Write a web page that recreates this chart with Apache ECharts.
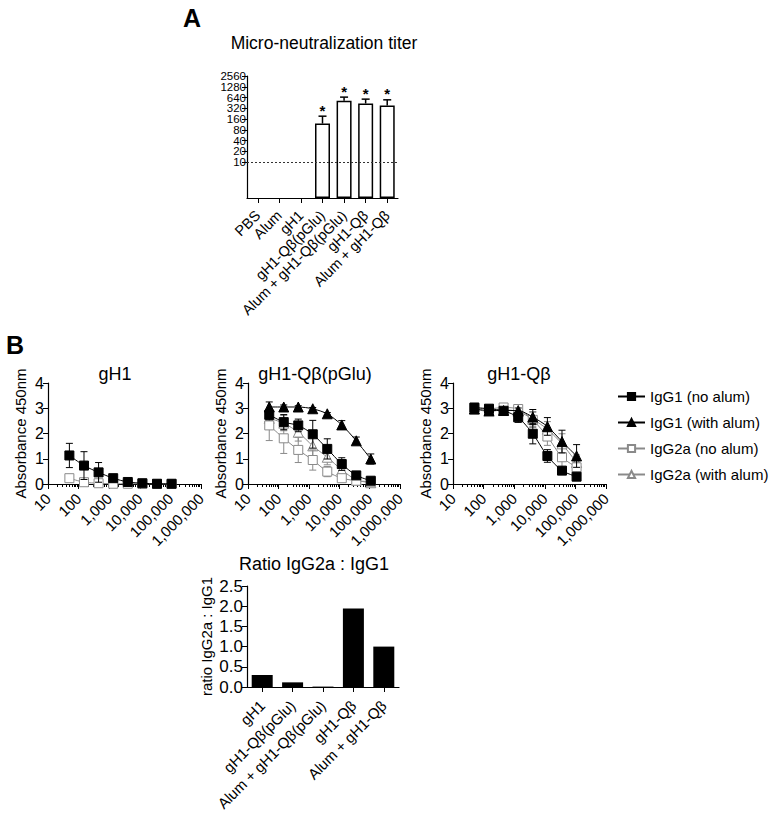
<!DOCTYPE html>
<html>
<head>
<meta charset="utf-8">
<script src="https://cdn.jsdelivr.net/npm/echarts@6/dist/echarts.min.js"></script>
<style>html,body{margin:0;padding:0;background:#fff}#c{width:773px;height:818px}</style>
</head>
<body>
<div id="c"></div>
<script>
// ---------- Panel A: micro-neutralization titer ----------
const titerCategories = ['PBS', 'Alum', 'gH1', 'gH1-Qβ(pGlu)', 'Alum + gH1-Qβ(pGlu)', 'gH1-Qβ', 'Alum + gH1-Qβ'];
const titerMean = [null, null, null, 120, 518, 437, 385];
const titerUpper = [null, null, null, 193, 658, 578, 553];
const titerSignificant = [false, false, false, true, true, true, true];
const titerTicks = [10, 20, 40, 80, 160, 320, 640, 1280, 2560];
const titerAxisMin = 1;
const titerAxisMax = 2560;
const detectionLimit = 10;

// ---------- Panel B: ELISA curves ----------
const dilutions = [50, 150, 450, 1350, 4050, 12150, 36450, 109350];
const dilutionMajorTicks = [10, 100, 1000, 10000, 100000, 1000000];
const seriesNames = ['IgG1 (no alum)', 'IgG1 (with alum)', 'IgG2a (no alum)', 'IgG2a (with alum)'];

// gH1
const gH1_IgG1_noAlum = [1.13, 0.73, 0.46, 0.23, 0.08, 0.03, 0.01, 0.01];
const gH1_IgG1_noAlum_err = [0.48, 0.55, 0.39, 0.15, 0.03, 0.02, 0.01, 0.01];
const gH1_IgG2a_noAlum = [0.23, 0.07, 0.03, 0.01, 0.01, 0.01, 0.0, 0.0];
const gH1_IgG2a_noAlum_err = [0.05, 0.03, 0.02, 0.01, 0, 0, 0, 0];

// gH1-Qβ(pGlu)
const pGlu_IgG1_noAlum = [2.74, 2.45, 2.32, 1.97, 1.39, 0.79, 0.34, 0.13];
const pGlu_IgG1_noAlum_err = [0.2, 0.3, 0.25, 0.55, 0.4, 0.25, 0.1, 0.05];
const pGlu_IgG1_alum = [3.05, 3.05, 3.05, 2.98, 2.78, 2.34, 1.71, 0.99];
const pGlu_IgG1_alum_err = [0.2, 0.08, 0.05, 0.05, 0.05, 0.17, 0.15, 0.2];
const pGlu_IgG2a_noAlum = [2.32, 1.81, 1.35, 0.95, 0.49, 0.23, 0.13, 0.09];
const pGlu_IgG2a_noAlum_err = [0.6, 0.6, 0.5, 0.4, 0.2, 0.08, 0.05, 0.03];
const pGlu_IgG2a_alum = [2.6, 2.41, 2.05, 1.51, 1.06, 0.56, 0.16, 0.05];
const pGlu_IgG2a_alum_err = [0.3, 0.3, 0.35, 0.45, 0.3, 0.15, 0.05, 0.03];

// gH1-Qβ
const qb_IgG1_noAlum = [3.03, 2.98, 2.90, 2.64, 1.99, 1.11, 0.53, 0.29];
const qb_IgG1_noAlum_err = [0.05, 0.05, 0.05, 0.2, 0.4, 0.25, 0.1, 0.05];
const qb_IgG1_alum = [2.97, 2.91, 2.91, 2.91, 2.65, 2.28, 1.68, 1.11];
const qb_IgG1_alum_err = [0.05, 0.05, 0.05, 0.1, 0.3, 0.35, 0.45, 0.45];
const qb_IgG2a_noAlum = [3.0, 2.98, 3.03, 2.97, 2.54, 1.88, 1.06, 0.66];
const qb_IgG2a_noAlum_err = [0.05, 0.05, 0.05, 0.05, 0.3, 0.35, 0.45, 0.2];
const qb_IgG2a_alum = [2.97, 2.87, 2.94, 2.87, 2.57, 2.17, 1.59, 0.85];
const qb_IgG2a_alum_err = [0.05, 0.05, 0.05, 0.05, 0.3, 0.3, 0.4, 0.3];

// Ratio
const ratioCategories = ['gH1', 'gH1-Qβ(pGlu)', 'Alum + gH1-Qβ(pGlu)', 'gH1-Qβ', 'Alum + gH1-Qβ'];
const ratioValues = [0.30, 0.115, 0.01, 1.94, 1.0];

// ---------- build ----------
const FONT = "'Liberation Sans', Arial, Helvetica, sans-serif";
const NARROW = "'Liberation Sans Narrow', 'Arial Narrow', 'Liberation Sans', Arial, sans-serif";
const BLACK = '#000';
const GRAY = '#8a8a8a';

const log2 = Math.log2;
const log10 = Math.log10;
const fmtThousands = v => String(Math.round(Math.pow(10, v))).replace(/\B(?=(\d{3})+(?!\d))/g, ',');

const minorTicks = [];
for (let d = 1; d < 6; d++) for (let k = 2; k <= 9; k++) minorTicks.push(d + log10(k));

const styles = {
  'IgG1 (no alum)':   { symbol: 'rect', color: BLACK, fill: BLACK, z: 4 },
  'IgG1 (with alum)': { symbol: 'triangle', color: BLACK, fill: BLACK, z: 5 },
  'IgG2a (no alum)':  { symbol: 'rect', color: GRAY, fill: '#fff', z: 3 },
  'IgG2a (with alum)':{ symbol: 'triangle', color: GRAY, fill: '#fff', z: 2 }
};

const grids = [
  { left: 247, top: 76, width: 151, height: 122 },   // A
  { left: 48, top: 383, width: 153, height: 101 },   // gH1
  { left: 248, top: 383, width: 152, height: 101 },  // pGlu
  { left: 453, top: 383, width: 153, height: 101 },  // Qb
  { left: 247, top: 586, width: 152, height: 101 }   // ratio
];

const axisLine = { show: true, lineStyle: { color: BLACK, width: 1.2 } };
const xAxes = [];
const yAxes = [];
const series = [];

// Panel A axes
xAxes.push({
  type: 'category', gridIndex: 0, data: titerCategories,
  axisLine, axisTick: { show: true, alignWithLabel: true, length: 5, lineStyle: { color: BLACK } },
  axisLabel: { interval: 0, rotate: 45, fontSize: 14.5, color: BLACK, margin: 15, fontFamily: FONT }
});
// two overlaid left axes carry alternating labels so that the tight log2 labels are all kept
const titerLabelsEven = titerTicks.filter((t, i) => i % 2 === 0);
const titerLabelsOdd = titerTicks.filter((t, i) => i % 2 === 1);
[titerLabelsEven, titerLabelsOdd].forEach((labs, k) => {
  yAxes.push({
    type: 'value', gridIndex: 0, position: 'left', offset: 0,
    min: log2(titerAxisMin), max: log2(titerAxisMax),
    splitLine: { show: false },
    axisLine: k === 0 ? axisLine : { show: false },
    axisTick: { show: k === 0, length: 5, customValues: titerTicks.map(log2), lineStyle: { color: BLACK } },
    axisLabel: { customValues: labs.map(log2), formatter: v => String(Math.round(Math.pow(2, v))),
      fontSize: 11.5, lineHeight: 10, color: BLACK, margin: 1, fontFamily: NARROW }
  });
});

// Panel B curve axes
for (let g = 1; g <= 3; g++) {
  xAxes.push({
    type: 'value', gridIndex: g, min: 1, max: 6, interval: 1, position: 'bottom',
    splitLine: { show: false }, axisLine,
    axisTick: { show: true, length: 5, lineStyle: { color: BLACK } },
    axisLabel: { rotate: 45, fontSize: 15, color: BLACK, margin: 12, formatter: fmtThousands, fontFamily: FONT,
      showMinLabel: true, showMaxLabel: true }
  });
  xAxes.push({
    type: 'value', gridIndex: g, min: 1, max: 6, interval: 1, position: 'bottom',
    splitLine: { show: false }, axisLine: { show: false },
    axisTick: { show: true, length: 3, customValues: minorTicks, lineStyle: { color: BLACK } },
    axisLabel: { show: false }
  });
}
const curveYStart = yAxes.length;
for (let g = 1; g <= 3; g++) {
  yAxes.push({
    type: 'value', gridIndex: g, min: 0, max: 4, interval: 1,
    splitLine: { show: false }, axisLine,
    axisTick: { show: true, length: 5, lineStyle: { color: BLACK } },
    axisLabel: { fontSize: 16, color: BLACK, margin: 4, fontFamily: FONT },
    name: 'Absorbance 450nm', nameLocation: 'middle', nameGap: 20,
    nameTextStyle: { fontSize: 15, color: BLACK, fontFamily: FONT }
  });
}

// Ratio axes
xAxes.push({
  type: 'category', gridIndex: 4, data: ratioCategories,
  axisLine, axisTick: { show: true, alignWithLabel: true, length: 5, lineStyle: { color: BLACK } },
  axisLabel: { interval: 0, rotate: 45, fontSize: 15, color: BLACK, margin: 16, fontFamily: FONT }
});
yAxes.push({
  type: 'value', gridIndex: 4, min: 0, max: 2.5, interval: 0.5,
  splitLine: { show: false }, axisLine,
  axisTick: { show: true, length: 5, lineStyle: { color: BLACK } },
  axisLabel: { fontSize: 17, color: BLACK, margin: 4, formatter: v => v.toFixed(1), fontFamily: FONT },
  name: 'ratio IgG2a : IgG1', nameLocation: 'middle', nameGap: 33,
  nameTextStyle: { fontSize: 15, color: BLACK, fontFamily: FONT }
});

// Panel A series
series.push({
  type: 'bar', xAxisIndex: 0, yAxisIndex: 0, barWidth: 15,
  data: titerMean.map(v => v == null ? null : log2(v)),
  itemStyle: { color: '#fff', borderColor: BLACK, borderWidth: 1.5 },
  markLine: {
    silent: true, symbol: 'none', label: { show: false },
    lineStyle: { type: [2, 2], color: '#333', width: 1.2 },
    data: [{ yAxis: log2(detectionLimit) }]
  }, z: 2
});
series.push({
  type: 'custom', xAxisIndex: 0, yAxisIndex: 0, coordinateSystem: 'cartesian2d', z: 3,
  data: titerCategories.map((c, i) => [i, titerMean[i] == null ? null : log2(titerMean[i]),
    titerUpper[i] == null ? null : log2(titerUpper[i]), titerSignificant[i] ? 1 : 0]),
  renderItem: (params, api) => {
    if (api.value(1) == null || isNaN(api.value(1))) return null;
    const p0 = api.coord([api.value(0), api.value(1)]);
    const p1 = api.coord([api.value(0), api.value(2)]);
    const children = [
      { type: 'line', shape: { x1: p0[0], y1: p0[1], x2: p1[0], y2: p1[1] }, style: { stroke: BLACK, lineWidth: 1.5 } },
      { type: 'line', shape: { x1: p1[0] - 4, y1: p1[1], x2: p1[0] + 4, y2: p1[1] }, style: { stroke: BLACK, lineWidth: 1.5 } }
    ];
    if (api.value(3)) children.push({ type: 'text', x: p1[0], y: p1[1] - 6,
      style: { text: '*', fontSize: 15, fontWeight: 'bold', fill: BLACK, align: 'center', verticalAlign: 'middle', fontFamily: FONT } });
    return { type: 'group', children };
  }
});

// Panel B series helper
function addCurve(panel, name, vals, errs) {
  const st = styles[name];
  const xi = 1 + (panel - 1) * 2;
  const yi = curveYStart + panel - 1;
  const pts = dilutions.map((d, i) => [log10(d), vals[i]]);
  series.push({
    type: 'custom', xAxisIndex: xi, yAxisIndex: yi, coordinateSystem: 'cartesian2d', z: st.z,
    silent: true,
    data: dilutions.map((d, i) => [log10(d), vals[i], errs[i]]),
    renderItem: (params, api) => {
      const x = api.value(0), y = api.value(1), e = api.value(2);
      if (!e) return null;
      const lo = Math.max(0, y - e);
      const a = api.coord([x, y + e]);
      const b = api.coord([x, lo]);
      const w = 3.5;
      const s = { stroke: st.color, lineWidth: 1 };
      return { type: 'group', children: [
        { type: 'line', shape: { x1: a[0], y1: a[1], x2: b[0], y2: b[1] }, style: s },
        { type: 'line', shape: { x1: a[0] - w, y1: a[1], x2: a[0] + w, y2: a[1] }, style: s },
        { type: 'line', shape: { x1: b[0] - w, y1: b[1], x2: b[0] + w, y2: b[1] }, style: s }
      ] };
    }
  });
  series.push({
    type: 'line', name, xAxisIndex: xi, yAxisIndex: yi, data: pts, z: st.z + 0.5,
    symbol: st.symbol, symbolSize: st.symbol === 'triangle' ? 10 : 9, smooth: 0.25,
    showAllSymbol: true,
    lineStyle: { color: st.color, width: 1 },
    itemStyle: { color: st.fill, borderColor: st.color, borderWidth: 1 }
  });
}

addCurve(1, 'IgG2a (no alum)', gH1_IgG2a_noAlum, gH1_IgG2a_noAlum_err);
addCurve(1, 'IgG1 (no alum)', gH1_IgG1_noAlum, gH1_IgG1_noAlum_err);

addCurve(2, 'IgG2a (with alum)', pGlu_IgG2a_alum, pGlu_IgG2a_alum_err);
addCurve(2, 'IgG2a (no alum)', pGlu_IgG2a_noAlum, pGlu_IgG2a_noAlum_err);
addCurve(2, 'IgG1 (no alum)', pGlu_IgG1_noAlum, pGlu_IgG1_noAlum_err);
addCurve(2, 'IgG1 (with alum)', pGlu_IgG1_alum, pGlu_IgG1_alum_err);

addCurve(3, 'IgG2a (with alum)', qb_IgG2a_alum, qb_IgG2a_alum_err);
addCurve(3, 'IgG2a (no alum)', qb_IgG2a_noAlum, qb_IgG2a_noAlum_err);
addCurve(3, 'IgG1 (with alum)', qb_IgG1_alum, qb_IgG1_alum_err);
addCurve(3, 'IgG1 (no alum)', qb_IgG1_noAlum, qb_IgG1_noAlum_err);

// Ratio bars
series.push({
  type: 'bar', xAxisIndex: xAxes.length - 1, yAxisIndex: yAxes.length - 1, barWidth: 21,
  data: ratioValues, itemStyle: { color: BLACK }
});

const texts = [
  { t: 'A', x: 192, y: 18, size: 25, bold: true },
  { t: 'B', x: 15, y: 345, size: 25, bold: true },
  { t: 'Micro-neutralization titer', x: 324, y: 43, size: 17.5 },
  { t: 'gH1', x: 115, y: 374, size: 18 },
  { t: 'gH1-Qβ(pGlu)', x: 315, y: 374, size: 18 },
  { t: 'gH1-Qβ', x: 519, y: 374, size: 18 },
  { t: 'Ratio IgG2a : IgG1', x: 314, y: 564, size: 18 }
];

const option = {
  animation: false,
  backgroundColor: '#fff',
  textStyle: { fontFamily: FONT, color: BLACK },
  grid: grids,
  xAxis: xAxes,
  yAxis: yAxes,
  legend: {
    data: seriesNames, orient: 'vertical', left: 612, top: 383,
    itemWidth: 27, itemHeight: 9, itemGap: 9,
    textStyle: { fontSize: 15, color: BLACK, fontFamily: FONT, lineHeight: 17 },
    selectedMode: false
  },
  graphic: texts.map(o => ({
    type: 'text', x: o.x, y: o.y,
    style: { text: o.t, fontSize: o.size, fontWeight: o.bold ? 'bold' : 'normal', fill: BLACK,
      align: 'center', verticalAlign: 'middle', fontFamily: FONT }
  })),
  series
};

const chart = echarts.init(document.getElementById('c'), null, { renderer: 'svg' });
chart.setOption(option);
</script>
</body>
</html>
